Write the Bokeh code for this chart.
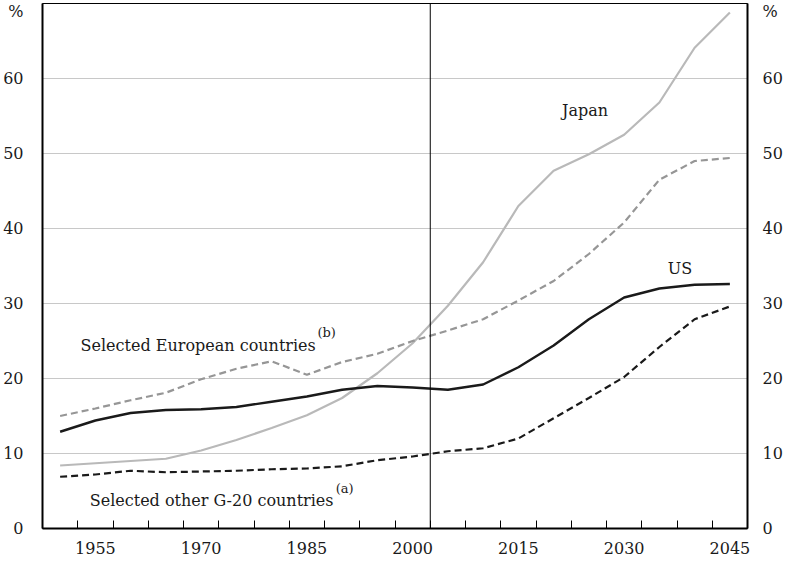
from bokeh.plotting import figure
from bokeh.models import Range1d, FixedTicker, LinearAxis, Span, Label
from bokeh.embed import file_html
from bokeh.resources import INLINE

# ---- data (per cent) ----
years = [1950, 1955, 1960, 1965, 1970, 1975, 1980, 1985, 1990, 1995,
         2000, 2005, 2010, 2015, 2020, 2025, 2030, 2035, 2040, 2045]
japan = [8.4, 8.7, 9.0, 9.3, 10.4, 11.8, 13.4, 15.1, 17.4, 20.7,
         24.7, 29.7, 35.5, 43.0, 47.7, 49.9, 52.5, 56.8, 64.1, 68.8]
europe = [15.0, 16.0, 17.1, 18.1, 19.9, 21.3, 22.3, 20.5, 22.2, 23.3,
          25.0, 26.4, 27.9, 30.4, 33.0, 36.6, 40.8, 46.5, 49.0, 49.4]
us = [12.9, 14.4, 15.4, 15.8, 15.9, 16.2, 16.9, 17.6, 18.5, 19.0,
      18.8, 18.5, 19.2, 21.5, 24.4, 27.9, 30.8, 32.0, 32.5, 32.6]
g20 = [6.9, 7.2, 7.7, 7.5, 7.6, 7.7, 7.9, 8.0, 8.3, 9.1,
       9.6, 10.3, 10.7, 12.0, 14.7, 17.4, 20.2, 24.2, 27.9, 29.6]
x_tick_labels = [1955, 1970, 1985, 2000, 2015, 2030, 2045]
y_ticks = [0, 10, 20, 30, 40, 50, 60]
unit_tick = 69
divider_year = 2002.5

FONT = "DejaVu Serif"
TXT = "#1a1a1a"
FS = "16px"
FS_SUP = "13px"

p = figure(width=785, height=560, output_backend="svg", toolbar_location=None,
           x_range=Range1d(1947.5, 2047.5), y_range=Range1d(0, 70),
           min_border_left=34, min_border_right=32, min_border_top=3,
           min_border_bottom=32)
p.outline_line_color = "black"
p.outline_line_width = 1
p.background_fill_color = "white"
p.border_fill_color = "white"

# x axis: labels at category centres, tick marks at boundaries (inward)
minor = [y - 2.5 for y in years[1:]]
p.xaxis.ticker = FixedTicker(ticks=x_tick_labels, minor_ticks=minor)
p.xaxis.major_tick_line_color = None
p.xaxis.minor_tick_line_color = "black"
p.xaxis.minor_tick_in = 8
p.xaxis.minor_tick_out = 0
p.xaxis.axis_line_width = 2
p.xaxis.axis_line_color = "black"
p.xaxis.major_label_text_font = FONT
p.xaxis.major_label_text_font_size = FS
p.xaxis.major_label_text_color = TXT
p.xaxis.major_label_standoff = 7
p.xgrid.visible = False

# y axes (the "%" unit sits as a label near the top)
y_axis_ticks = y_ticks + [unit_tick]
overrides = {unit_tick: "%"}
p.yaxis.ticker = FixedTicker(ticks=y_axis_ticks)
p.yaxis.major_label_overrides = overrides
p.ygrid.ticker = FixedTicker(ticks=y_ticks[1:])
p.ygrid.grid_line_color = "#c8c8c8"
p.ygrid.grid_line_width = 1.2
p.yaxis.major_tick_line_color = None
p.yaxis.minor_tick_line_color = None
p.yaxis.axis_line_width = 2
p.yaxis.axis_line_color = "black"
p.yaxis.major_label_text_font = FONT
p.yaxis.major_label_text_font_size = FS
p.yaxis.major_label_text_color = TXT
p.yaxis.major_label_standoff = 13

ry = LinearAxis(ticker=FixedTicker(ticks=y_axis_ticks))
ry.major_label_overrides = overrides
ry.major_tick_line_color = None
ry.minor_tick_line_color = None
ry.axis_line_width = 2
ry.axis_line_color = "black"
ry.major_label_text_font = FONT
ry.major_label_text_font_size = FS
ry.major_label_text_color = TXT
ry.major_label_standoff = 9
p.add_layout(ry, "right")

# series
p.line(years, japan, line_color="#b9b9b9", line_width=2.2)
p.line(years, europe, line_color="#969696", line_width=2.2, line_dash="7 4")
p.line(years, us, line_color="#1a1a1a", line_width=2.4)
p.line(years, g20, line_color="#1a1a1a", line_width=2.2, line_dash="7 4")

p.add_layout(Span(location=divider_year, dimension="height",
                  line_color="black", line_width=1))

def lab(x, y, t, size=FS):
    p.add_layout(Label(x=x, y=y, text=t, text_font=FONT, text_font_size=size,
                       text_color=TXT, text_align="left",
                       text_baseline="middle"))

lab(2021.2, 55.7, "Japan")
lab(2036.2, 34.7, "US")
lab(1952.9, 24.4, "Selected European countries")
lab(1986.5, 26.1, "(b)", size=FS_SUP)
lab(1954.2, 3.7, "Selected other G-20 countries")
lab(1989.1, 5.4, "(a)", size=FS_SUP)

open("out.html", "w").write(file_html(p, INLINE))
